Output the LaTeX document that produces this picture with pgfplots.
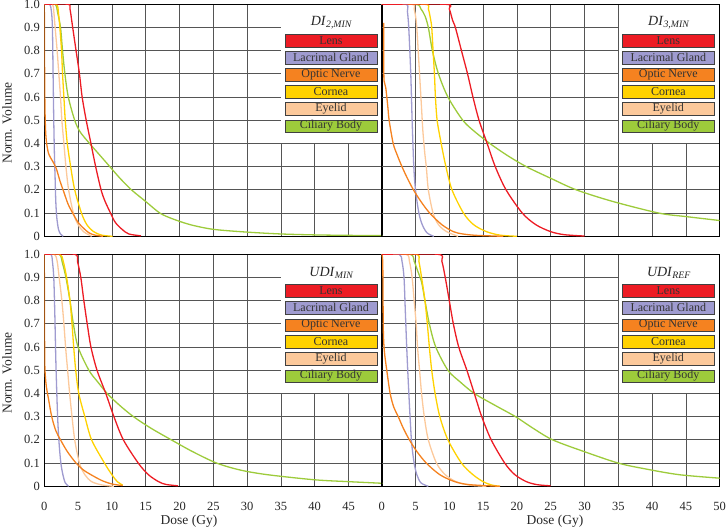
\documentclass[border=0pt]{standalone}
\usepackage{fontspec}
\setmainfont{Liberation Serif}
\usepackage{pgfplots}
\pgfplotsset{compat=1.18}

\definecolor{lensc}{HTML}{ED1C24}
\definecolor{lacc}{HTML}{9F9BD0}
\definecolor{optc}{HTML}{F58220}
\definecolor{corc}{HTML}{FFD200}
\definecolor{eyec}{HTML}{FCC99B}
\definecolor{cilc}{HTML}{9DCB3B}
\definecolor{gridc}{HTML}{555555}

\tikzset{legitem/.style={draw=black!75, line width=0.6pt, minimum width=92pt, minimum height=12.5pt, inner sep=0pt, font=\fontsize{12}{12}\selectfont, text=black!80}}

\pgfplotsset{
 panel/.style={
  scale only axis, width=338pt, height=232pt,
  xmin=0,xmax=50,ymin=0,ymax=1,
  xtick={0,5,10,15,20,25,30,35,40,45,50},
  ytick={0,0.1,0.2,0.3,0.4,0.5,0.6,0.7,0.8,0.9,1},
  grid=major, major grid style={gridc, line width=0.8pt},
  major tick length=0pt,
  axis line style={black,line width=0.9pt},
  ticklabel style={font=\fontsize{12.5}{14}\selectfont, color=black!85},
  xticklabel style={yshift=-12pt},
  yticklabel style={xshift=-1pt},
  every axis plot/.append style={line width=1.3pt, smooth, tension=0.5, no markers},
  /pgf/number format/assume math mode=true,
 },
}

\newcommand{\legbox}[1]{%
 \fill[white] ([xshift=0.5pt,yshift=0.5pt]axis cs:35,0.4) rectangle ([xshift=-0.5pt,yshift=-0.5pt]axis cs:50,1);
 \node[font=\fontsize{14}{15}\selectfont, text=black!85] at (axis cs:42.5,0.919) {#1};
 \node[legitem, fill=lensc] at (axis cs:42.4,0.842) {Lens};
 \node[legitem, fill=lacc] at (axis cs:42.4,0.769) {Lacrimal Gland};
 \node[legitem, fill=optc] at (axis cs:42.4,0.695) {Optic Nerve};
 \node[legitem, fill=corc] at (axis cs:42.4,0.622) {Cornea};
 \node[legitem, fill=eyec] at (axis cs:42.4,0.549) {Eyelid};
 \node[legitem, fill=cilc] at (axis cs:42.4,0.475) {Ciliary Body};
}

\begin{document}
\begin{tikzpicture}
\path[use as bounding box] (0,0) rectangle (726pt,529pt);

% ---------- top left: DI2,MIN
\begin{axis}[panel, at={(44.3pt,292.7pt)}, anchor=south west,
  xticklabels={}, yticklabels={0,0.1,0.2,0.3,0.4,0.5,0.6,0.7,0.8,0.9,1.0}]
\addplot[cilc] coordinates {(0,1)(1.6,1)(2.0,0.96)(2.4,0.9)(2.7,0.8)(3.05,0.7)(3.55,0.6)(4.5,0.5)(5.3,0.45)(6.7,0.4)(8.2,0.35)(9.7,0.3)(11.2,0.25)(12.9,0.2)(15,0.15)(17.1,0.1)(19,0.075)(21.6,0.05)(25,0.03)(30,0.018)(35,0.01)(40,0.006)(45,0.004)(50,0.003)};
\addplot[eyec] coordinates {(0,1)(1.2,1)(1.4,0.97)(1.6,0.9)(1.9,0.8)(2.15,0.7)(2.4,0.6)(2.6,0.5)(2.9,0.4)(3.2,0.3)(3.6,0.2)(4.3,0.1)(5.0,0.05)(5.8,0.02)(7,0)};
\addplot[corc] coordinates {(0,1)(1.8,1)(2.1,0.96)(2.3,0.9)(2.55,0.8)(2.7,0.7)(2.9,0.6)(3.1,0.5)(3.4,0.4)(3.9,0.3)(4.5,0.2)(5.5,0.1)(6.3,0.05)(7.3,0.02)(8.5,0.005)(10.1,0)};
\addplot[lacc] coordinates {(0,1)(0.8,1)(1.05,0.97)(1.2,0.9)(1.3,0.7)(1.4,0.5)(1.5,0.35)(1.6,0.25)(1.7,0.15)(1.85,0.08)(2.1,0.03)(2.4,0.01)(2.8,0)};
\addplot[optc] coordinates {(0,1)(0.02,0.9)(0.05,0.7)(0.1,0.55)(0.2,0.45)(0.35,0.4)(0.6,0.36)(0.9,0.34)(1.3,0.32)(1.8,0.29)(2.3,0.24)(2.9,0.19)(3.5,0.14)(4.2,0.1)(5.0,0.06)(5.8,0.035)(6.6,0.015)(7.5,0.005)(8.7,0)};
\addplot[lensc] coordinates {(0,1)(3.5,1)(3.8,0.98)(4.2,0.9)(4.7,0.8)(5.2,0.7)(5.6,0.6)(6.2,0.5)(6.9,0.4)(7.6,0.3)(8.4,0.2)(9.0,0.15)(9.8,0.1)(10.5,0.06)(11.5,0.03)(12.5,0.01)(14.3,0.002)};
\legbox{\textit{DI}\textsubscript{\textit{2,MIN}}}
\end{axis}

% ---------- top right: DI3,MIN
\begin{axis}[panel, at={(381.7pt,292.7pt)}, anchor=south west,
  xticklabels={}, yticklabels={}]
\addplot[cilc] coordinates {(0,1)(5.0,1)(5.8,0.98)(6.4,0.95)(6.9,0.9)(7.5,0.8)(8.4,0.7)(9.8,0.6)(12.0,0.5)(13.8,0.45)(16,0.4)(18.5,0.35)(21.4,0.3)(25,0.25)(28.8,0.2)(34.2,0.15)(41,0.1)(45,0.085)(50,0.068)};
\addplot[eyec] coordinates {(0,1)(4.5,1)(4.8,0.98)(5.1,0.93)(5.3,0.85)(5.5,0.75)(5.7,0.65)(5.9,0.55)(6.1,0.45)(6.4,0.35)(6.6,0.3)(6.9,0.2)(7.6,0.1)(8.4,0.05)(9.6,0.02)(11.3,0)};
\addplot[corc] coordinates {(0,1)(6.4,1)(6.9,0.98)(7.2,0.94)(7.4,0.9)(7.6,0.8)(7.8,0.7)(7.95,0.6)(8.2,0.5)(8.8,0.4)(9.5,0.3)(10.4,0.2)(12.1,0.1)(13.6,0.05)(15.5,0.02)(17.5,0.005)(20,0)};
\addplot[lacc] coordinates {(0,1)(3.6,1)(3.8,0.97)(4.0,0.9)(4.3,0.7)(4.5,0.5)(4.75,0.3)(5.0,0.2)(5.5,0.1)(6.0,0.05)(6.7,0.015)(7.7,0)};
\addplot[optc] coordinates {(0.3,0.92)(0.3,0.75)(0.35,0.67)(0.6,0.64)(0.9,0.56)(1.1,0.5)(1.7,0.4)(2.3,0.35)(3.0,0.3)(3.8,0.25)(4.7,0.2)(5.8,0.15)(7.1,0.1)(8.9,0.05)(10.6,0.02)(12,0.01)(14,0.004)(18,0)};
\addplot[lensc] coordinates {(0,1)(9.5,1)(10,0.98)(10.5,0.93)(10.9,0.9)(11.8,0.8)(12.7,0.7)(13.5,0.6)(14.4,0.5)(15.6,0.4)(16.8,0.3)(18.4,0.2)(20.8,0.1)(22.8,0.05)(25,0.02)(27,0.007)(30,0.001)};
\legbox{\textit{DI}\textsubscript{\textit{3,MIN}}}
\end{axis}

% ---------- bottom left: UDI_MIN
\begin{axis}[panel, at={(44.3pt,42.7pt)}, anchor=south west,
  xticklabels={0,5,10,15,20,25,30,35,40,45,{}}, yticklabels={0,0.1,0.2,0.3,0.4,0.5,0.6,0.7,0.8,0.9,1.0}]
\addplot[cilc] coordinates {(0,1)(2.2,1)(2.7,0.96)(3.2,0.9)(3.8,0.8)(4.3,0.7)(5.0,0.6)(6.6,0.5)(7.9,0.45)(9.3,0.4)(11.1,0.35)(13.2,0.3)(15.8,0.25)(18.8,0.2)(21.9,0.15)(25.5,0.1)(29,0.07)(33,0.05)(40,0.028)(45,0.02)(50,0.013)};
\addplot[eyec] coordinates {(0,1)(1.5,1)(1.9,0.97)(2.2,0.9)(2.6,0.8)(2.9,0.7)(3.15,0.6)(3.45,0.5)(3.75,0.4)(4.1,0.3)(4.5,0.2)(5.2,0.1)(6,0.05)(7,0.02)(8.5,0.006)(10.3,0)};
\addplot[corc] coordinates {(0,1)(2.3,1)(2.8,0.97)(3.3,0.9)(3.8,0.8)(4.1,0.7)(4.35,0.6)(4.65,0.5)(5.1,0.4)(6.0,0.3)(7.0,0.2)(8.9,0.1)(10,0.05)(10.8,0.02)(11.6,0.005)};
\addplot[lacc] coordinates {(0,1)(1.0,1)(1.2,0.97)(1.4,0.9)(1.55,0.75)(1.7,0.55)(1.85,0.4)(2.0,0.28)(2.2,0.18)(2.45,0.1)(2.75,0.05)(3.1,0.015)(3.6,0)};
\addplot[optc] coordinates {(0,1)(0.02,0.8)(0.05,0.6)(0.1,0.5)(0.3,0.43)(0.6,0.38)(1.1,0.3)(1.7,0.24)(2.4,0.2)(3.4,0.15)(4.7,0.1)(5.8,0.07)(6.9,0.05)(8.5,0.025)(10,0.01)(11.6,0.003)};
\addplot[lensc] coordinates {(0,1)(4.5,1)(4.9,0.97)(5.4,0.9)(5.85,0.8)(6.35,0.7)(6.9,0.6)(7.8,0.5)(9.1,0.4)(10.3,0.3)(11.7,0.2)(13.9,0.1)(15.4,0.05)(16.9,0.02)(18,0.008)(19.8,0.002)};
\legbox{\textit{UDI}\textsubscript{\textit{MIN}}}
\end{axis}

% ---------- bottom right: UDI_REF
\begin{axis}[panel, at={(381.7pt,42.7pt)}, anchor=south west,
  xticklabels={0,5,10,15,20,25,30,35,40,45,50}, yticklabels={}]
\addplot[cilc] coordinates {(0,1)(4.2,1)(4.8,0.97)(5.3,0.93)(5.9,0.88)(6.4,0.8)(7.05,0.7)(8.0,0.6)(9.8,0.5)(11.6,0.45)(13.7,0.4)(16.7,0.35)(19.8,0.3)(22.4,0.25)(25.3,0.2)(29.9,0.15)(35,0.1)(39,0.075)(44,0.05)(50,0.035)};
\addplot[eyec] coordinates {(0,1)(3.6,1)(4.1,0.97)(4.5,0.9)(4.8,0.8)(5.1,0.7)(5.3,0.6)(5.6,0.5)(5.9,0.4)(6.3,0.3)(6.9,0.2)(8.1,0.1)(9.4,0.05)(11,0.02)(13,0.005)(15.5,0)};
\addplot[corc] coordinates {(0,1)(5.1,1)(5.5,0.97)(5.9,0.9)(6.4,0.8)(6.75,0.7)(7.05,0.6)(7.4,0.5)(7.9,0.4)(8.6,0.3)(9.8,0.2)(11.8,0.1)(13.5,0.05)(15,0.02)(16.2,0.006)(17.5,0)};
\addplot[lacc] coordinates {(0,1)(2.6,1)(3.0,0.97)(3.3,0.9)(3.5,0.75)(3.7,0.6)(3.85,0.5)(4.05,0.38)(4.25,0.27)(4.45,0.18)(4.8,0.1)(5.2,0.05)(5.8,0.015)(6.9,0)};
\addplot[optc] coordinates {(0,1)(0.15,0.97)(0.2,0.8)(0.25,0.66)(0.4,0.58)(0.75,0.5)(1.25,0.4)(1.8,0.34)(2.45,0.3)(3.2,0.25)(4.1,0.2)(5.2,0.15)(6.6,0.1)(8.6,0.05)(10.8,0.02)(13,0.007)(17.5,0)};
\addplot[lensc] coordinates {(0,1)(8.3,1)(8.9,0.97)(9.4,0.9)(10.0,0.8)(10.6,0.7)(11.4,0.6)(12.6,0.5)(13.7,0.4)(14.8,0.3)(16.2,0.2)(18.2,0.1)(19.7,0.05)(21.4,0.02)(23,0.007)(25,0.002)};
\legbox{\textit{UDI}\textsubscript{\textit{REF}}}
\end{axis}

% ---------- outer labels
\node[rotate=90, font=\fontsize{13.5}{15}\selectfont, text=black!85] at (7pt,406pt) {Norm. Volume};
\node[rotate=90, font=\fontsize{13.5}{15}\selectfont, text=black!85] at (7pt,156pt) {Norm. Volume};
\node[font=\fontsize{13.5}{15}\selectfont, text=black!85] at (189pt,7.5pt) {Dose (Gy)};
\node[font=\fontsize{13.5}{15}\selectfont, text=black!85] at (555pt,7.5pt) {Dose (Gy)};
\end{tikzpicture}
\end{document}
